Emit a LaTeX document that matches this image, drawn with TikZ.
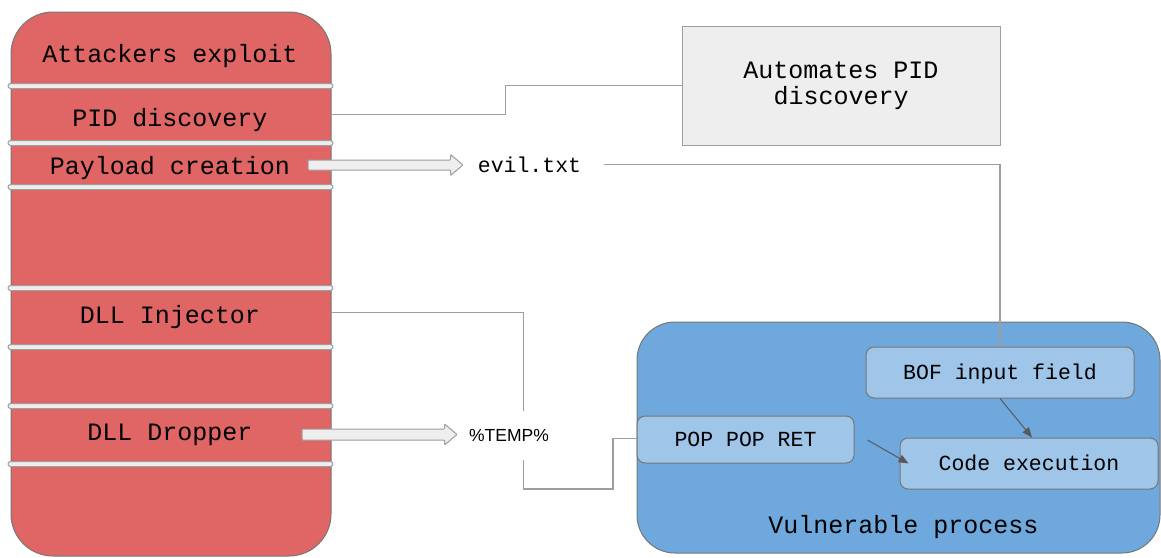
\documentclass[tikz,border=0pt]{standalone}
\usepackage{fontspec}
\setmonofont{Liberation Mono}
\newfontfamily\labelsans{Liberation Sans}
\usetikzlibrary{arrows.meta,calc}

\definecolor{attackred}{HTML}{E06666}
\definecolor{procblue}{HTML}{6FA8DC}
\definecolor{stepblue}{HTML}{9FC5E8}
\definecolor{panelgray}{HTML}{EEEEEE}
\definecolor{edgegray}{HTML}{767676}
\definecolor{linegray}{HTML}{9E9E9E}
\definecolor{arrowgray}{HTML}{595959}

\tikzset{
  bigtext/.style={font=\ttfamily\fontsize{25}{26}\selectfont, text=black},
  smalltext/.style={font=\ttfamily\fontsize{21.5}{24}\selectfont, text=black},
  redpanel/.style={draw=edgegray, fill=attackred, line width=1pt, rounded corners=42pt,
    minimum width=320pt, minimum height=544pt, inner sep=0pt},
  sepbar/.style={draw=linegray, fill=panelgray, line width=1pt, rounded corners=2.5pt},
  graybox/.style={draw=linegray, fill=panelgray, line width=1pt,
    minimum width=318pt, minimum height=119pt, align=center},
  bluepanel/.style={draw=edgegray, fill=procblue, line width=1pt, rounded corners=38pt,
    minimum width=523pt, minimum height=231pt, inner sep=0pt},
  stepbox/.style={draw=edgegray, fill=stepblue, line width=1pt, rounded corners=8pt,
    text height=14pt, text depth=0pt},
  conn/.style={draw=linegray, line width=1.3pt},
  fatbody/.style={draw=linegray, fill=panelgray, line width=1pt, rounded corners=0.8pt},
  procarrow/.style={draw=arrowgray, line width=1pt, -{Triangle[length=10pt,width=8pt]}},
}

% block arrow from #1 to the tip #2, with half shaft width #3
\newcommand\fatarrow[3]{%
  \draw[fatbody] ($(#1)+(0,-#3)$) -- ($(#2)+(-12.5,-#3)$) -- ($(#2)+(-12.5,-10.5)$)
    -- (#2) -- ($(#2)+(-12.5,10.5)$) -- ($(#2)+(-12.5,#3)$) -- ($(#1)+(0,#3)$) -- cycle;}

\begin{document}
\begin{tikzpicture}[x=1pt,y=-1pt]
\useasboundingbox (0,0) rectangle (1161,557);

% attacker column
\node[redpanel] (rp) at (171,284) {};
\foreach \yy in {86,143,187,288,347,406,464}
  \draw[sepbar] (8,\yy-2.5) rectangle (333,\yy+2.5);

\node[bigtext, anchor=base] (title) at (170,62) {Attackers exploit};
\node[bigtext, anchor=base] (pid) at (170,126) {PID discovery};
\node[bigtext, anchor=base] (pay) at (170,174) {Payload creation};
\node[bigtext, anchor=base] (inj) at (170,323) {DLL Injector};
\node[bigtext, anchor=base] (drop) at (170,440) {DLL Dropper};

% PID automation box
\node[graybox, bigtext] (auto) at (841,85.5) {Automates PID\\discovery};

% vulnerable process
\node[bluepanel] (proc) at (898.5,437.5) {};
\node[stepbox, smalltext, minimum width=268pt, minimum height=51pt] (bof) at (1000,372.5) {BOF input field};
\node[stepbox, smalltext, minimum width=217pt, minimum height=47pt] (pop) at (745.5,439.5) {POP POP RET};
\node[stepbox, smalltext, minimum width=258pt, minimum height=51pt] (code) at (1029,463.5) {Code execution};
\node[bigtext, anchor=base] (proclabel) at (903.5,533) {Vulnerable process};

% payload file
\node[smalltext, anchor=base] (evil) at (529.5,172) {evil.txt};
\coordinate (evilout) at (604,164.3);

% connectors
\draw[conn] (rp.east |- 0,114.5) -| (505.7,85.5) -- (auto.west);
\draw[conn] (evilout) -| (bof.north);
\draw[conn] (rp.east |- 0,312.7) -| (523.3,489) -| (613,438.5) -- (pop.west |- 0,438.5);

% temp folder label over the injector line
\node[font=\labelsans\fontsize{17.5}{20}\selectfont, text=black, fill=white,
  inner xsep=1pt, inner ysep=0pt, text height=12.6pt, text depth=0pt,
  minimum height=49pt] (temp) at (509,435.5) {\%TEMP\%};

% block arrows
\coordinate (payfrom) at (308,165);
\coordinate (payto) at (463,165);
\fatarrow{payfrom}{payto}{5}
\coordinate (dropfrom) at (302,434.5);
\coordinate (dropto) at (457,434.5);
\fatarrow{dropfrom}{dropto}{5.5}

% flow inside the process
\draw[procarrow] (bof.south) -- ($(code.north)+(3,0)$);
\draw[procarrow] ($(pop.east)+(13,0.5)$) -- ($(code.west)+(9,0)$);
\end{tikzpicture}
\end{document}
